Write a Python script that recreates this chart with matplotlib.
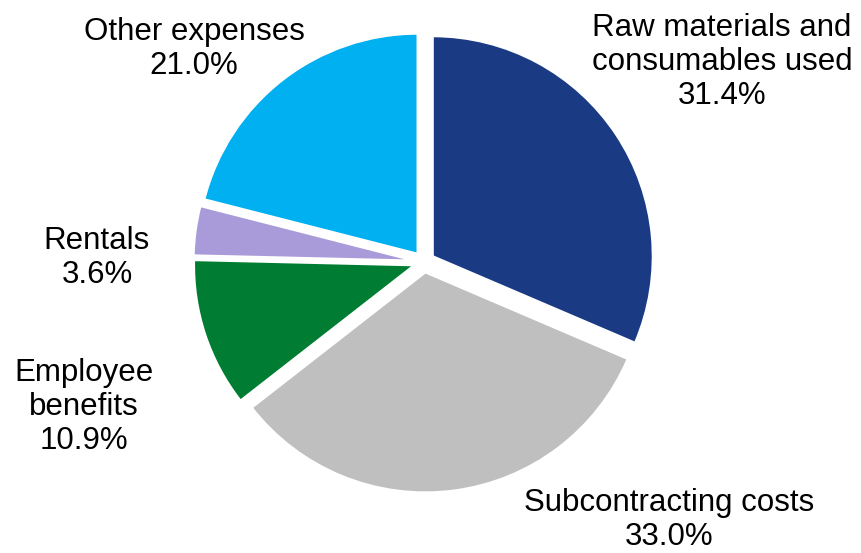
"""Pie chart of expense breakdown."""
import matplotlib
matplotlib.use("Agg")
import matplotlib.pyplot as plt

names = ["Raw materials and\nconsumables used", "Subcontracting costs",
         "Employee\nbenefits", "Rentals", "Other expenses"]
shares = [31.4, 33.0, 10.9, 3.6, 21.0]
colors = ["#1a3a84", "#bfbfbf", "#007d32", "#a99ad9", "#00b0f0"]

# label centres in pixels (x, y from top)
label_pos = [(722, 62), (669, 520), (84, 407), (97, 258), (194, 49)]

W, H = 861, 553
plt.rcParams["font.family"] = ["Liberation Sans", "DejaVu Sans"]

fig = plt.figure(figsize=(W / 100, H / 100), dpi=100)
ax = fig.add_axes([0, 0, 1, 1])

# explode is in data units here (pixels), not a fraction of the radius
ax.pie(shares, colors=colors, startangle=90, counterclock=False,
       center=(424, H - 262), radius=220, explode=[10.5] * len(shares),
       wedgeprops=dict(edgecolor="white", linewidth=1.5))

# pie() resets the limits, so fix them afterwards
ax.set_xlim(0, W)
ax.set_ylim(0, H)
ax.set_aspect("equal")
ax.set_axis_off()

for name, val, (x, y) in zip(names, shares, label_pos):
    ax.text(x, H - y, f"{name}\n{val:.1f}%", ha="center", va="center",
            multialignment="center", fontsize=22.5, linespacing=1.19,
            color="black")

fig.savefig("out.png", dpi=100)
